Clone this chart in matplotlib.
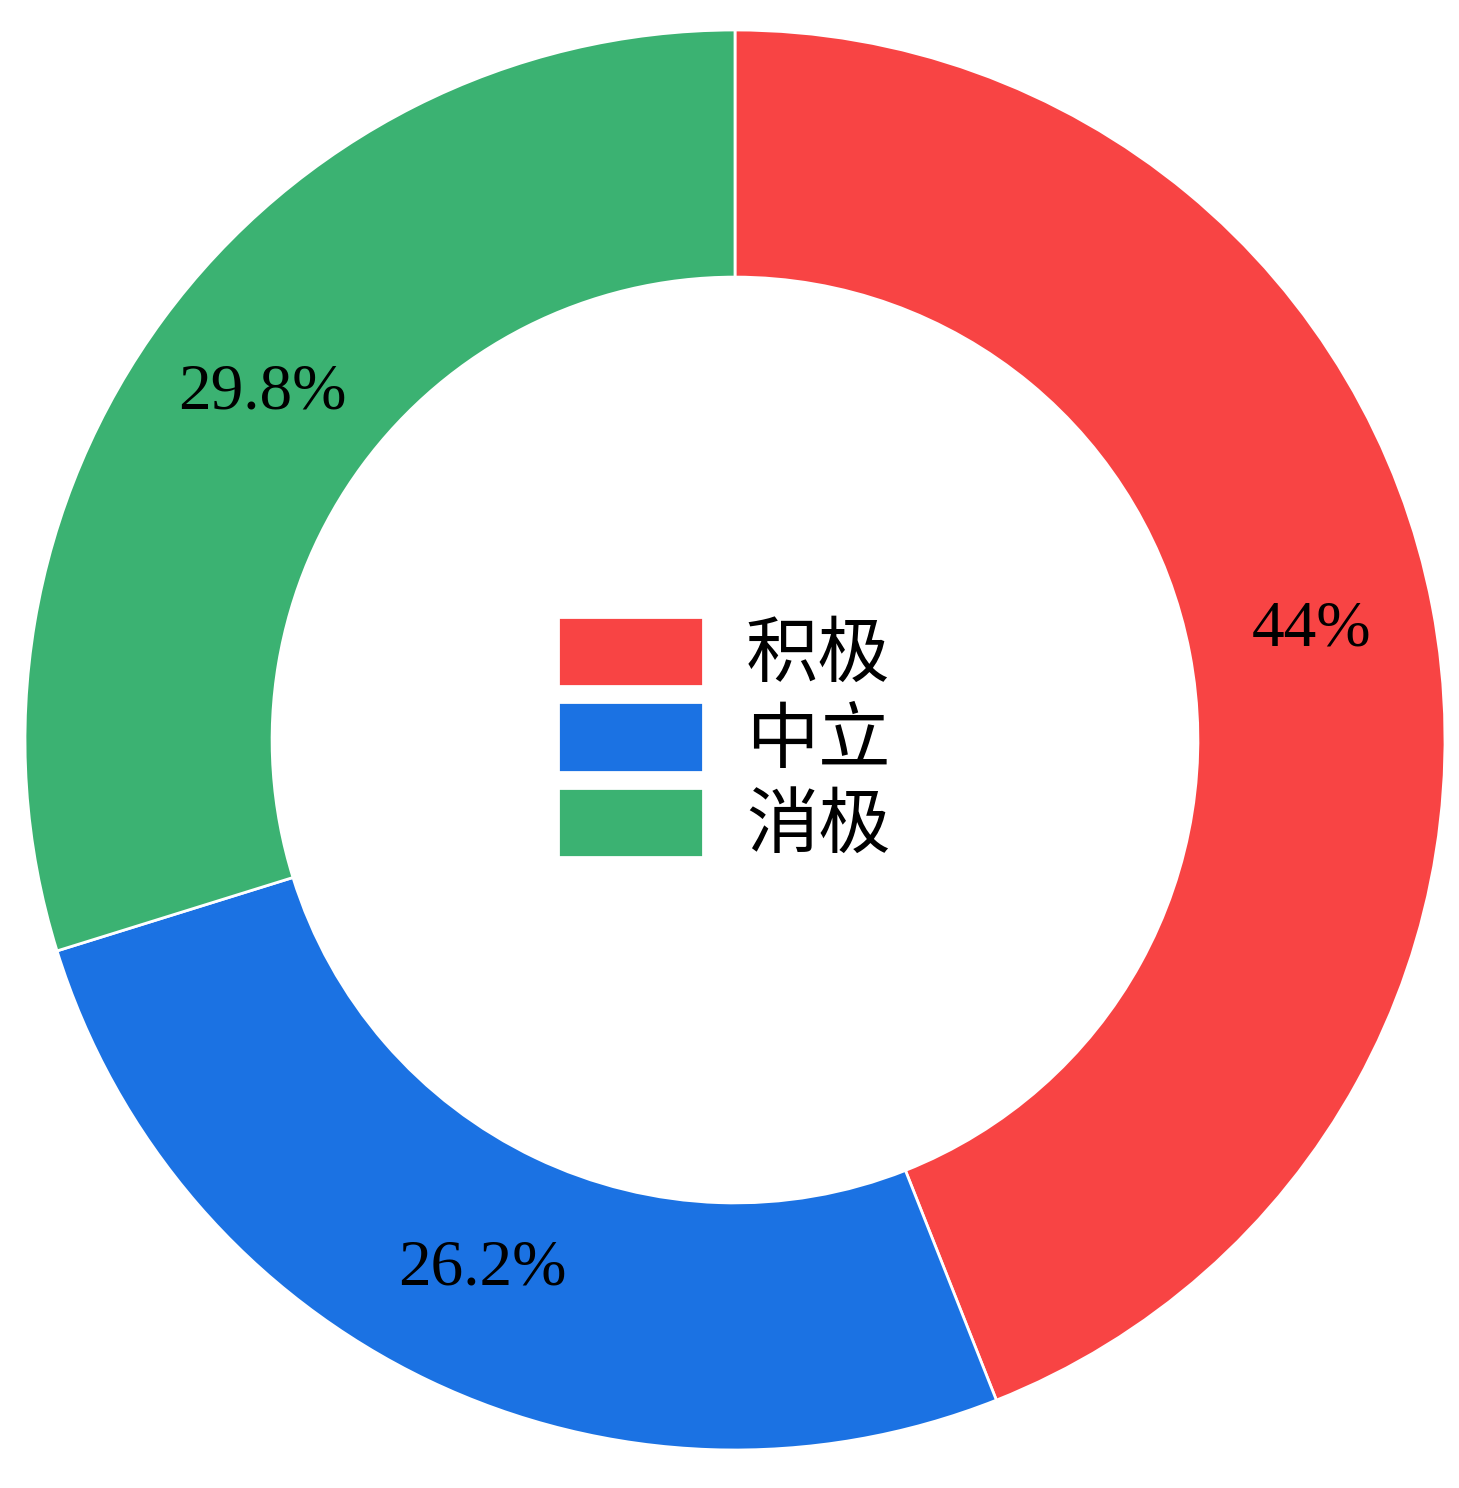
# Donut chart: sentiment share
import numpy as np
import matplotlib.pyplot as plt

plt.rcParams['font.family'] = ['Noto Sans CJK SC', 'DejaVu Sans']

labels = ['积极', '中立', '消极']
values = [44.0, 26.2, 29.8]
pct_text = ['44%', '26.2%', '29.8%']
colors = ['#F84444', '#1B72E3', '#3BB272']

fig = plt.figure(figsize=(14.59, 14.88), dpi=100)
ax = fig.add_axes([0, 0, 1, 1])

wedges, _ = ax.pie(values, colors=colors, startangle=90, counterclock=False,
                   radius=1.0,
                   wedgeprops=dict(width=0.348, edgecolor='white', linewidth=2))

# percentage labels at mid-ring
for w, t in zip(wedges, pct_text):
    ang = np.deg2rad((w.theta1 + w.theta2) / 2)
    r = 0.826
    ax.text(r * np.cos(ang), r * np.sin(ang), t, ha='center', va='center',
            fontsize=47, family=['Liberation Serif', 'DejaVu Serif'], color='black')

ax.set_xlim(-735 / 710, (1459 - 735) / 710)
ax.set_ylim(-(1488 - 740) / 710, 740 / 710)
ax.set_aspect('auto')
ax.axis('off')

ax.legend(wedges, labels, loc='center', bbox_to_anchor=(-0.015, 0.0),
          bbox_transform=ax.transData, frameon=False, fontsize=52,
          handlelength=2.0, handleheight=1.1, labelspacing=0.14,
          handletextpad=0.6)

plt.savefig('out.png', dpi=100)
